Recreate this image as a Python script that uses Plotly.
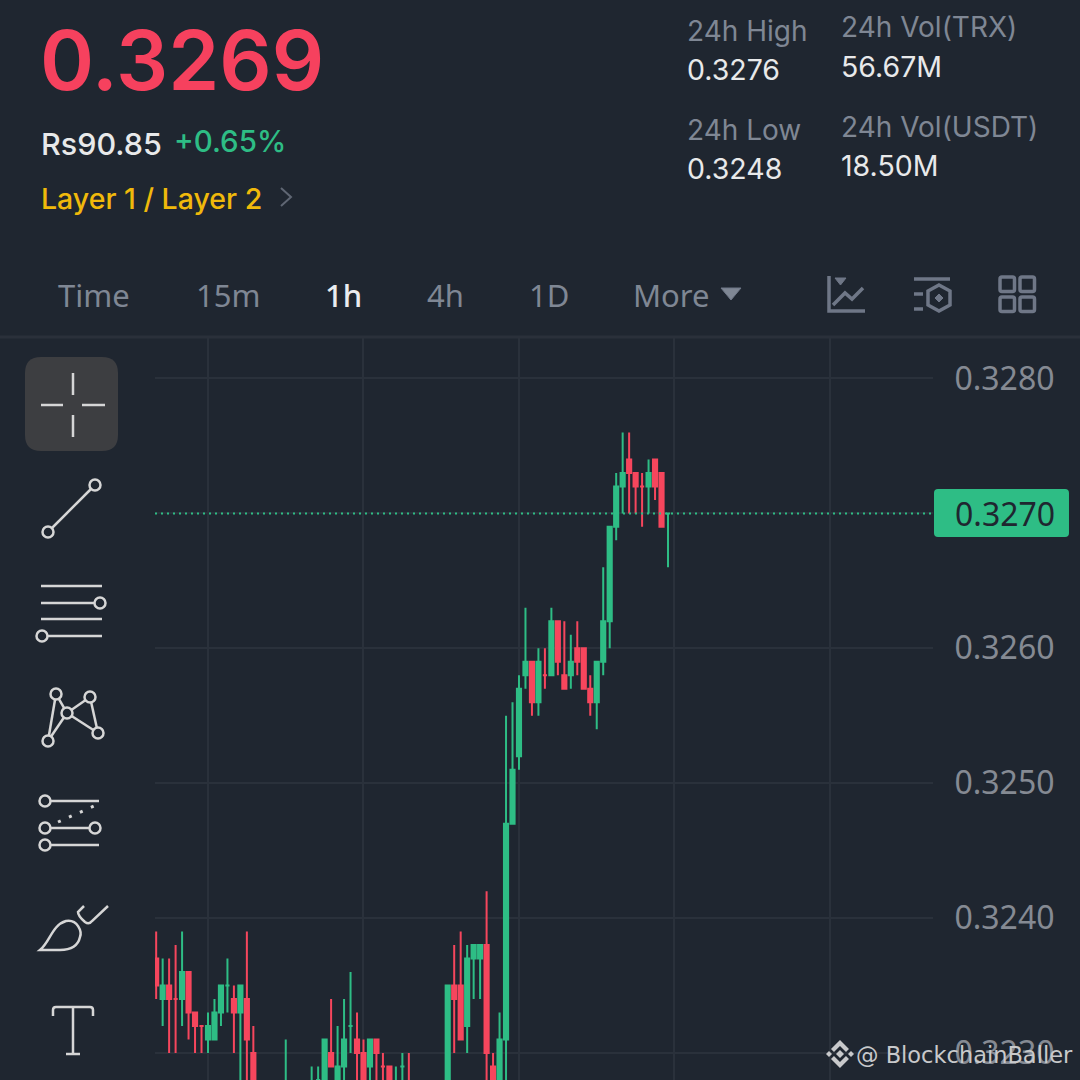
"""
TRX/USDT 1h candlestick screen, redrawn with plotly.
"""

import plotly.graph_objects as go

# candles, oldest first. The ones at the very bottom run off the screen so they are a guess
candle_index = list(range(80))
opens = [
    0.3237, 0.3234, 0.3235, 0.3234, 0.3234, 0.3236, 0.3233, 0.3232, 0.3231, 0.3231,
    0.3233, 0.3235, 0.3234, 0.3233, 0.3234, 0.3230, 0.3227, 0.3226, 0.3226, 0.3225,
    0.3226, 0.3227, 0.3226, 0.3226, 0.3226, 0.3228, 0.3227, 0.3230, 0.3227, 0.3229,
    0.3232, 0.3231, 0.3230, 0.3229, 0.3231, 0.3229, 0.3229, 0.3226, 0.3229, 0.3227,
    0.3226, 0.3226, 0.3226, 0.3226, 0.3226, 0.3227, 0.3235, 0.3235, 0.3232, 0.3237,
    0.3237, 0.3238, 0.3229, 0.3227, 0.3231, 0.3247, 0.3252, 0.3258, 0.3259, 0.3256,
    0.3258, 0.3258, 0.3262, 0.3258, 0.3258, 0.3260, 0.3260, 0.3257, 0.3256, 0.3259,
    0.3262, 0.3269, 0.3272, 0.3274, 0.3273, 0.3272, 0.3272, 0.3274, 0.3273, 0.3270,
]
highs = [
    0.3239, 0.3237, 0.3237, 0.3238, 0.3239, 0.3236, 0.3233, 0.3232, 0.3233, 0.3234,
    0.3235, 0.3237, 0.3235, 0.3235, 0.3239, 0.3232, 0.3227, 0.3227, 0.3227, 0.3227,
    0.3231, 0.3227, 0.3227, 0.3227, 0.3229, 0.3229, 0.3231, 0.3234, 0.3232, 0.3234,
    0.3236, 0.3233, 0.3231, 0.3231, 0.3231, 0.3230, 0.3229, 0.3229, 0.3230, 0.3230,
    0.3227, 0.3227, 0.3227, 0.3227, 0.3227, 0.3235, 0.3238, 0.3239, 0.3238, 0.3238,
    0.3238, 0.3242, 0.3230, 0.3233, 0.3255, 0.3256, 0.3258, 0.3263, 0.3259, 0.3260,
    0.3260, 0.3263, 0.3262, 0.3262, 0.3261, 0.3262, 0.3260, 0.3258, 0.3259, 0.3266,
    0.3269, 0.3273, 0.3276, 0.3276, 0.3273, 0.3273, 0.3274, 0.3274, 0.3273, 0.3270,
]
lows = [
    0.3234, 0.3232, 0.3230, 0.3230, 0.3232, 0.3231, 0.3230, 0.3230, 0.3230, 0.3231,
    0.3232, 0.3233, 0.3230, 0.3226, 0.3226, 0.3226, 0.3225, 0.3225, 0.3224, 0.3224,
    0.3225, 0.3225, 0.3225, 0.3225, 0.3226, 0.3226, 0.3226, 0.3229, 0.3227, 0.3227,
    0.3230, 0.3227, 0.3226, 0.3227, 0.3227, 0.3227, 0.3226, 0.3226, 0.3226, 0.3225,
    0.3225, 0.3225, 0.3225, 0.3225, 0.3225, 0.3226, 0.3230, 0.3231, 0.3230, 0.3234,
    0.3234, 0.3227, 0.3226, 0.3226, 0.3227, 0.3247, 0.3251, 0.3257, 0.3255, 0.3255,
    0.3257, 0.3258, 0.3258, 0.3257, 0.3257, 0.3258, 0.3257, 0.3255, 0.3254, 0.3258,
    0.3260, 0.3268, 0.3270, 0.3270, 0.3270, 0.3269, 0.3270, 0.3271, 0.3269, 0.3266,
]
closes = [
    0.3235, 0.3235, 0.3234, 0.3234, 0.3236, 0.3233, 0.3232, 0.3232, 0.3232, 0.3233,
    0.3235, 0.3235, 0.3233, 0.3235, 0.3231, 0.3227, 0.3226, 0.3226, 0.3225, 0.3226,
    0.3227, 0.3226, 0.3226, 0.3227, 0.3227, 0.3228, 0.3231, 0.3229, 0.3229, 0.3231,
    0.3232, 0.3230, 0.3227, 0.3231, 0.3230, 0.3229, 0.3227, 0.3227, 0.3229, 0.3226,
    0.3226, 0.3226, 0.3226, 0.3226, 0.3226, 0.3235, 0.3234, 0.3231, 0.3237, 0.3238,
    0.3238, 0.3230, 0.3227, 0.3231, 0.3247, 0.3251, 0.3257, 0.3259, 0.3256, 0.3259,
    0.3258, 0.3262, 0.3259, 0.3257, 0.3259, 0.3259, 0.3257, 0.3256, 0.3259, 0.3262,
    0.3269, 0.3272, 0.3273, 0.3273, 0.3272, 0.3272, 0.3273, 0.3272, 0.3269, 0.3270,
]

price_ticks = [0.3230, 0.3240, 0.3250, 0.3260, 0.3270, 0.3280]
time_ticks = [8, 32, 56, 80, 104]
last_price = 0.3270

tab_labels = ["Time", "15m", "1h", "4h", "1D", "More"]
stat_labels = ["24h High", "24h Low", "24h Vol(TRX)", "24h Vol(USDT)"]
stat_values = ["0.3276", "0.3248", "56.67M", "18.50M"]

BG = "#1f2630"
GRID = "#2a313b"
RED = "#f6465d"
GREEN = "#2ebd85"
GREY = "#7f8794"
TICK_GREY = "#858a93"
ICON = "#d6d6d6"
ICON_DIM = "#6f7787"
FONT = "Noto Sans"
HEAD_FONT = "Inter"


def px(x):
    return x / 1080


def py(y):
    return 1 - y / 1080


def to_path(points, close=False):
    """Turn pixel points from the top left of the screen into an svg path in paper coordinates."""
    cmds = [f"{'M' if i == 0 else 'L'} {px(x):.5f} {py(y):.5f}" for i, (x, y) in enumerate(points)]
    return " ".join(cmds) + (" Z" if close else "")


def curve_path(cmds):
    """Like to_path, but for a list of (letter, x0, y0, ...) with curves in it."""
    out = []
    for c in cmds:
        vals = c[1:]
        coords = [
            f"{px(v):.5f}" if i % 2 == 0 else f"{py(v):.5f}" for i, v in enumerate(vals)
        ]
        out.append(c[0] + " " + " ".join(coords))
    return " ".join(out)


def add_poly(fig, points, color, width=2.5, close=False, fill=None, dash=None):
    fig.add_shape(
        type="path",
        path=to_path(points, close),
        xref="paper",
        yref="paper",
        line=dict(color=color, width=width, dash=dash),
        fillcolor=fill,
        layer="above",
    )


def add_curve(fig, cmds, color, width=2.5, fill=None):
    fig.add_shape(
        type="path",
        path=curve_path(cmds),
        xref="paper",
        yref="paper",
        line=dict(color=color, width=width),
        fillcolor=fill,
        layer="above",
    )


def add_dot(fig, cx, cy, r=5.5, color=ICON):
    fig.add_shape(
        type="circle",
        x0=px(cx - r),
        x1=px(cx + r),
        y0=py(cy - r),
        y1=py(cy + r),
        xref="paper",
        yref="paper",
        line=dict(color=color, width=2.5),
        fillcolor=BG,
        layer="above",
    )


def rounded_rect(x0, y0, x1, y1, r):
    return [
        ("M", x0 + r, y0),
        ("L", x1 - r, y0),
        ("Q", x1, y0, x1, y0 + r),
        ("L", x1, y1 - r),
        ("Q", x1, y1, x1 - r, y1),
        ("L", x0 + r, y1),
        ("Q", x0, y1, x0, y1 - r),
        ("L", x0, y0 + r),
        ("Q", x0, y0, x0 + r, y0),
        ("Z",),
    ]


def add_text(fig, text, x, y, size, color, weight=400, family=FONT, anchor="left"):
    fig.add_annotation(
        text=text,
        x=px(x),
        y=py(y),
        xref="paper",
        yref="paper",
        xanchor=anchor,
        yanchor="middle",
        showarrow=False,
        borderpad=0,
        borderwidth=0,
        font=dict(size=size, color=color, family=family, weight=weight),
    )


def add_left_toolbar(fig):
    # selected crosshair button
    add_curve(fig, rounded_rect(25, 357, 118, 451, 16), "#3d3e41", width=0, fill="#3d3e41")
    add_poly(fig, [(73, 373), (73, 395)], ICON)
    add_poly(fig, [(73, 415), (73, 437)], ICON)
    add_poly(fig, [(41, 405), (63, 405)], ICON)
    add_poly(fig, [(82, 405), (105, 405)], ICON)

    # trend line
    add_poly(fig, [(48, 532), (95, 485)], ICON)
    add_dot(fig, 95, 485)
    add_dot(fig, 48, 532)

    # parallel lines
    add_poly(fig, [(41, 586), (102, 586)], ICON)
    add_poly(fig, [(41, 603), (100, 603)], ICON)
    add_poly(fig, [(41, 619), (102, 619)], ICON)
    add_poly(fig, [(42, 636), (102, 636)], ICON)
    add_dot(fig, 100, 603)
    add_dot(fig, 42, 636)

    # pattern
    for a, b in [
        ((48, 741), (56, 694)),
        ((48, 741), (67, 713)),
        ((56, 694), (67, 713)),
        ((67, 713), (90, 697)),
        ((67, 713), (98, 733)),
        ((90, 697), (98, 733)),
    ]:
        add_poly(fig, [a, b], ICON)
    for cx, cy in [(56, 694), (90, 697), (67, 713), (98, 733), (48, 741)]:
        add_dot(fig, cx, cy)

    # fib
    add_poly(fig, [(45, 801), (99, 801)], ICON)
    add_poly(fig, [(58, 822), (94, 806)], ICON, width=3, dash="3px,9px")
    add_poly(fig, [(45, 828), (95, 828)], ICON)
    add_poly(fig, [(45, 845), (99, 845)], ICON)
    add_dot(fig, 45, 801)
    add_dot(fig, 45, 828)
    add_dot(fig, 95, 828)
    add_dot(fig, 45, 845)

    # brush
    add_curve(
        fig,
        [
            ("M", 40, 950),
            ("C", 50, 942, 52, 925, 66, 921),
            ("C", 78, 919, 82, 932, 80, 937),
            ("C", 78, 946, 70, 950, 60, 950),
            ("Z",),
        ],
        ICON,
    )
    add_curve(
        fig,
        [
            ("M", 84, 906),
            ("L", 78, 912),
            ("Q", 78, 916, 85, 922),
            ("Q", 89, 925, 92, 921),
            ("L", 108, 906),
        ],
        ICON,
    )

    # text tool
    add_curve(
        fig,
        [
            ("M", 53, 1016),
            ("L", 53, 1010),
            ("Q", 53, 1007, 56, 1007),
            ("L", 90, 1007),
            ("Q", 93, 1007, 93, 1010),
            ("L", 93, 1016),
        ],
        ICON,
    )
    add_poly(fig, [(73, 1007), (73, 1054)], ICON)
    add_poly(fig, [(66, 1054), (80, 1054)], ICON)


def add_tab_icons(fig):
    w = 3.5
    add_poly(fig, [(829, 276), (829, 311), (865, 311)], ICON_DIM, width=w)
    add_poly(fig, [(835, 278), (846, 278), (840.5, 285)], ICON_DIM, width=1, close=True, fill=ICON_DIM)
    add_poly(fig, [(833, 305), (845, 293), (852, 299), (863, 288)], ICON_DIM, width=w)

    add_poly(fig, [(914, 279), (950, 279)], ICON_DIM, width=w)
    add_poly(fig, [(914, 294), (923, 294)], ICON_DIM, width=w)
    add_poly(fig, [(914, 309), (923, 309)], ICON_DIM, width=w)
    add_poly(
        fig,
        [(939, 285), (950, 291), (950, 305), (939, 311), (928, 305), (928, 291)],
        ICON_DIM,
        width=w,
        close=True,
    )
    add_poly(
        fig,
        [(939, 294), (943, 298), (939, 302), (935, 298)],
        ICON_DIM,
        width=1,
        close=True,
        fill=ICON_DIM,
    )

    for x0, y0 in [(1000, 277), (1020, 277), (1000, 297), (1020, 297)]:
        add_curve(fig, rounded_rect(x0, y0, x0 + 14.5, y0 + 14.5, 2), ICON_DIM, width=w)

    # little arrows next to "More" and the category link
    add_poly(fig, [(721, 288), (741, 288), (731, 300)], ICON_DIM, width=1, close=True, fill=GREY)
    add_poly(fig, [(281, 188), (291, 197), (281, 206)], "#5f6673", width=2)


def add_watermark(fig):
    col = "#c8c9cb"
    add_poly(fig, [(840, 1050), (844, 1054), (840, 1058), (836, 1054)], col, width=0, close=True, fill=col)
    add_poly(fig, [(829, 1051), (832, 1054), (829, 1057), (826, 1054)], col, width=0, close=True, fill=col)
    add_poly(fig, [(851, 1051), (854, 1054), (851, 1057), (848, 1054)], col, width=0, close=True, fill=col)
    add_poly(
        fig,
        [(840, 1040), (849, 1049), (846, 1052), (840, 1046), (834, 1052), (831, 1049)],
        col,
        width=0,
        close=True,
        fill=col,
    )
    add_poly(
        fig,
        [(840, 1068), (849, 1059), (846, 1056), (840, 1062), (834, 1056), (831, 1059)],
        col,
        width=0,
        close=True,
        fill=col,
    )
    add_text(fig, "@ BlockchainBaller", 856, 1055, 22.5, "#c8c9cb", family="DejaVu Sans")


def add_header(fig):
    add_text(fig, "0.3269", 40, 61, 82, "#f6415e", weight=600, family=HEAD_FONT)
    add_text(fig, "Rs90.85", 41, 144, 30.5, "#e8e9ea", weight=500, family=HEAD_FONT)
    add_text(fig, "+0.65%", 174, 141, 29.5, GREEN, weight=500, family=HEAD_FONT)
    add_text(fig, "Layer 1 / Layer 2", 41, 198, 28.5, "#f0b90b", weight=500, family=HEAD_FONT)

    stat_pos = [(687, 31, 69), (687, 130, 169), (841, 27, 66), (841, 127, 166)]
    for label, value, (x, y_label, y_value) in zip(stat_labels, stat_values, stat_pos):
        add_text(fig, label, x, y_label, 28, GREY, family=HEAD_FONT)
        add_text(fig, value, x, y_value, 28.5, "#e8e9ea", family=HEAD_FONT)

    tab_x = [58, 196, 325, 427, 529, 633]
    for label, x in zip(tab_labels, tab_x):
        selected = label == "1h"
        add_text(
            fig,
            label,
            x,
            295,
            31,
            "#eaecef" if selected else GREY,
            weight=500 if selected else 400,
        )


def make_image():
    fig = go.Figure(
        go.Candlestick(
            x=candle_index,
            open=opens,
            high=highs,
            low=lows,
            close=closes,
            increasing=dict(line=dict(color=GREEN, width=2), fillcolor=GREEN),
            decreasing=dict(line=dict(color=RED, width=2), fillcolor=RED),
            showlegend=False,
        )
    )

    # the 0.3270 label sits behind the price tag, leave it blank
    tick_text = ["" if p == last_price else f"{p:.4f}" for p in price_ticks]

    fig.update_layout(
        width=1080,
        height=1080,
        margin=dict(l=0, r=0, t=0, b=0),
        paper_bgcolor=BG,
        plot_bgcolor=BG,
        showlegend=False,
        boxgap=0.2,
        boxgroupgap=0.2,
        xaxis=dict(
            domain=[155 / 1080, 933 / 1080],
            range=[-0.18, 119.9],
            rangeslider=dict(visible=False),
            tickvals=time_ticks,
            showticklabels=False,
            ticks="",
            showgrid=True,
            gridcolor=GRID,
            gridwidth=2,
            zeroline=False,
        ),
        yaxis=dict(
            domain=[0, (1080 - 338) / 1080],
            range=[0.3228, 0.32830],
            side="right",
            tickvals=price_ticks,
            ticktext=tick_text,
            ticks="outside",
            ticklen=14,
            tickcolor="rgba(0,0,0,0)",
            tickfont=dict(size=32, color=TICK_GREY, family=FONT),
            showgrid=True,
            gridcolor=GRID,
            gridwidth=2,
            zeroline=False,
        ),
    )

    # tab bar bottom border
    add_poly(fig, [(0, 337), (1080, 337)], "#2a303a", width=3)

    # last price line + tag
    fig.add_shape(
        type="line",
        xref="x domain",
        yref="y",
        x0=0,
        x1=1,
        y0=last_price,
        y1=last_price,
        line=dict(color=GREEN, width=2, dash="2px,4px"),
        layer="above",
    )
    add_curve(fig, rounded_rect(934, 489, 1069, 537, 4), GREEN, width=0, fill=GREEN)
    add_text(fig, f"{last_price:.4f}", 955, 513, 32, BG)

    add_header(fig)
    add_tab_icons(fig)
    add_left_toolbar(fig)
    add_watermark(fig)
    return fig


def main():
    fig = make_image()
    fig.write_html(
        "out.html",
        config={"displayModeBar": False},
        post_script="document.body.style.margin='0';",
    )


if __name__ == "__main__":
    main()
